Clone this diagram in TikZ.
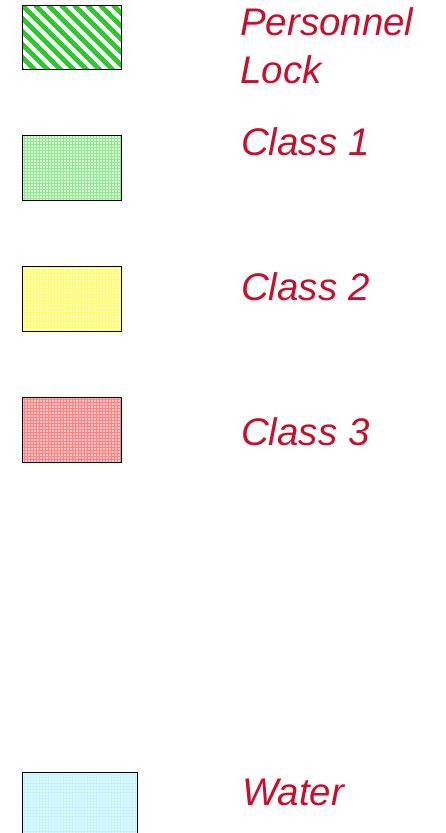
\documentclass[tikz,border=0pt]{standalone}
\usepackage{fontspec}
\setmainfont{Liberation Sans}
\usepackage{tikz}
\definecolor{LegendRed}{RGB}{200,16,46}
\definecolor{LockGreen}{RGB}{45,200,45}
\definecolor{GreenGrid}{RGB}{120,225,120}
\definecolor{YellowGrid}{RGB}{255,255,60}
\definecolor{RedGrid}{RGB}{255,90,90}
\definecolor{WaterGrid}{RGB}{185,240,255}

\begin{document}
\begin{tikzpicture}[x=1pt, y=-1pt,
            keybox/.style={draw, black, line width=0.8pt},
            keygrid/.style={line width=0.7pt},
            keylabel/.style={anchor=base west, inner sep=0pt, text=LegendRed,
                font=\itshape\fontsize{38.5}{48}\selectfont, align=left}
        ]
            \useasboundingbox (0,0) rectangle (446,833);

            % Personnel lock: diagonal stripes
            \begin{scope}
                \clip (22,5) rectangle (121,69);
                \foreach \i in {-78,-65,...,120}
                    \draw[LockGreen, line width=4.6pt] (22+\i,5) -- ++(70,70);
            \end{scope}
            \node (lockbox) [keybox, minimum width=99pt, minimum height=64pt, anchor=north west] at (22,5) {};
            \node (locktext) [keylabel] at (240,83) {Personnel\\Lock};

            % Class 1
            \fill[GreenGrid!30] (22,135) rectangle (121,200);
            \draw[keygrid, GreenGrid!80, step=3pt] (22,135) grid (121,200);
            \node (classone) [keybox, minimum width=99pt, minimum height=65pt, anchor=north west] at (22,135) {};
            \node (classonetext) [keylabel] at (241,155) {Class 1};

            % Class 2
            \fill[YellowGrid!30] (22,266) rectangle (121,331);
            \draw[keygrid, YellowGrid!80, step=3pt] (22,266) grid (121,331);
            \node (classtwo) [keybox, minimum width=99pt, minimum height=65pt, anchor=north west] at (22,266) {};
            \node (classtwotext) [keylabel] at (241,300) {Class 2};

            % Class 3
            \fill[RedGrid!35] (22,397) rectangle (121,462);
            \draw[keygrid, RedGrid!75, step=3pt] (22,397) grid (121,462);
            \node (classthree) [keybox, minimum width=99pt, minimum height=65pt, anchor=north west] at (22,397) {};
            \node (classthreetext) [keylabel] at (241,445) {Class 3};

            % Water
            \fill[WaterGrid!50] (22,772) rectangle (137,840);
            \draw[keygrid, WaterGrid!80, step=3pt] (22,772) grid (137,840);
            \draw[keybox] (22,840) -- (22,772) -- (137,772) -- (137,840);
            \node (watertext) [keylabel] at (242,805) {Water};
        \end{tikzpicture}
\end{document}
